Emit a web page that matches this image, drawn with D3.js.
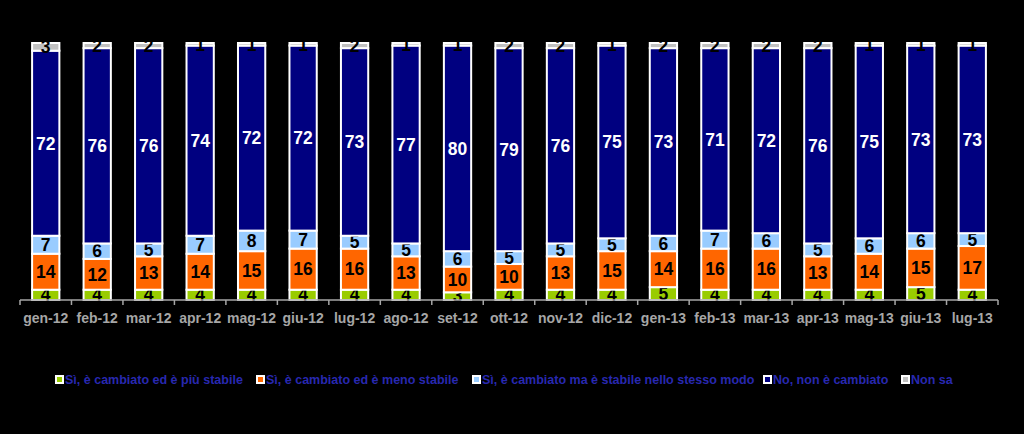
<!DOCTYPE html>
<html lang="it">
<head>
<meta charset="UTF-8">
<script src="https://d3js.org/d3.v7.min.js"></script>
<title>Stabilità</title>
<style>
    body { margin: 0; background: #000; }
    svg { display: block; font-family: "Liberation Sans", Arial, sans-serif; }
</style>
</head>
<body>
<svg width="1024" height="434"></svg>
<script>
    // data
    var months = ["gen-12", "feb-12", "mar-12", "apr-12", "mag-12", "giu-12", "lug-12", "ago-12", "set-12", "ott-12",
        "nov-12", "dic-12", "gen-13", "feb-13", "mar-13", "apr-13", "mag-13", "giu-13", "lug-13"];
    var piuStabile  = [4, 4, 4, 4, 4, 4, 4, 4, 3, 4, 4, 4, 5, 4, 4, 4, 4, 5, 4];
    var menoStabile = [14, 12, 13, 14, 15, 16, 16, 13, 10, 10, 13, 15, 14, 16, 16, 13, 14, 15, 17];
    var stessoModo  = [7, 6, 5, 7, 8, 7, 5, 5, 6, 5, 5, 5, 6, 7, 6, 5, 6, 6, 5];
    var nonCambiato = [72, 76, 76, 74, 72, 72, 73, 77, 80, 79, 76, 75, 73, 71, 72, 76, 75, 73, 73];
    var nonSa       = [3, 2, 2, 1, 1, 1, 2, 1, 1, 2, 2, 1, 2, 2, 2, 2, 1, 1, 1];
    var seriesNames = ["Sì, è cambiato ed è più stabile", "Sì, è cambiato ed è meno stabile",
        "Sì, è cambiato ma è stabile nello stesso modo", "No, non è cambiato", "Non sa"];

    var keys = ["a", "b", "c", "d", "e"];
    var colors = ["#99cc00", "#ff6600", "#99ccff", "#000080", "#c0c0c0"];
    var textColors = ["#000", "#000", "#000", "#fff", "#000"];

    var rows = months.map(function(m, i) {
        return { month: m, a: piuStabile[i], b: menoStabile[i], c: stessoModo[i], d: nonCambiato[i], e: nonSa[i] };
    });

    var svg = d3.select("svg");

    var x = d3.scaleBand()
        .domain(months)
        .range([20, 998])
        .paddingInner(0.47)
        .paddingOuter(0.235);

    var y = d3.scaleLinear()
        .domain([0, 100])
        .range([300, 43]);

    var stack = d3.stack().keys(keys)(rows);

    var layer = svg.append("g")
        .selectAll("g")
        .data(stack)
        .enter().append("g");

    layer.selectAll("rect")
        .data(function(d, k) { return d.map(function(p) { p.k = k; return p; }); })
        .enter().append("rect")
        .attr("x", function(d) { return x(d.data.month); })
        .attr("y", function(d) { return y(d[1]); })
        .attr("width", x.bandwidth())
        .attr("height", function(d) { return y(d[0]) - y(d[1]); })
        .attr("fill", function(d) { return colors[d.k]; })
        .attr("stroke", "#fff")
        .attr("stroke-width", 2);

    layer.selectAll("text")
        .data(function(d) { return d; })
        .enter().append("text")
        .attr("x", function(d) { return x(d.data.month) + x.bandwidth() / 2; })
        .attr("y", function(d) { return (y(d[0]) + y(d[1])) / 2; })
        .attr("dy", "0.36em")
        .attr("text-anchor", "middle")
        .attr("font-size", 17.5)
        .attr("font-weight", "bold")
        .attr("fill", function(d) { return textColors[d.k]; })
        .text(function(d) { return d[1] - d[0]; });

    // x axis
    var axis = svg.append("g").attr("transform", "translate(0,300)");
    axis.append("line")
        .attr("x1", 20).attr("x2", 998)
        .attr("stroke", "#a6a6a6").attr("stroke-width", 1.5);
    var step = x.step();
    axis.selectAll("line.tick")
        .data(d3.range(months.length + 1))
        .enter().append("line")
        .attr("class", "tick")
        .attr("x1", function(i) { return 20 + i * step; })
        .attr("x2", function(i) { return 20 + i * step; })
        .attr("y1", 0).attr("y2", 5)
        .attr("stroke", "#a6a6a6").attr("stroke-width", 1.5);
    axis.selectAll("text")
        .data(months)
        .enter().append("text")
        .attr("x", function(d) { return x(d) + x.bandwidth() / 2; })
        .attr("y", 18)
        .attr("dy", "0.36em")
        .attr("text-anchor", "middle")
        .attr("font-size", 14)
        .attr("font-weight", "bold")
        .attr("fill", "#a6a6a6")
        .text(function(d) { return d; });

    // legend
    var legendX = [55, 256, 472, 763, 901];
    var legend = svg.append("g")
        .selectAll("g")
        .data(seriesNames)
        .enter().append("g")
        .attr("transform", function(d, i) { return "translate(" + legendX[i] + ",380)"; });

    legend.append("rect")
        .attr("x", 1).attr("y", -4)
        .attr("width", 7).attr("height", 7)
        .attr("fill", function(d, i) { return colors[i]; })
        .attr("stroke", "#fff")
        .attr("stroke-width", 2);

    legend.append("text")
        .attr("x", 10)
        .attr("y", 0)
        .attr("dy", "0.35em")
        .attr("font-size", 12.5)
        .attr("font-weight", "bold")
        .attr("fill", "#2828b0")
        .text(function(d) { return d; });
</script>
</body>
</html>
